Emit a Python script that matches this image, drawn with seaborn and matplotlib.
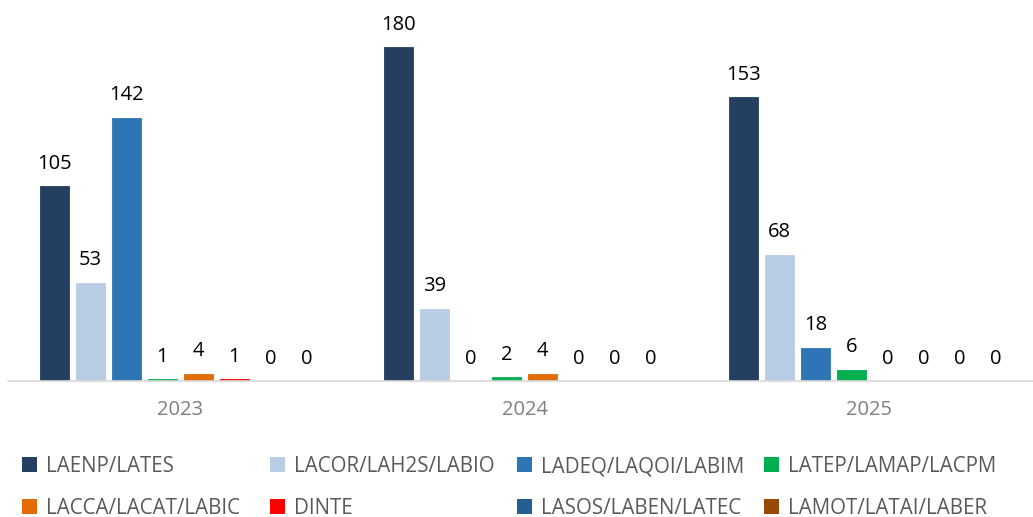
import numpy as np
import pandas as pd
import seaborn as sns
import matplotlib.pyplot as plt
from matplotlib.patches import Patch

# --- Data ---
years = ['2023', '2024', '2025']
labs = ['LAENP/LATES', 'LACOR/LAH2S/LABIO', 'LADEQ/LAQOI/LABIM', 'LATEP/LAMAP/LACPM',
        'LACCA/LACAT/LABIC', 'DINTE', 'LASOS/LABEN/LATEC', 'LAMOT/LATAI/LABER']
counts_2023 = [105, 53, 142, 1, 4, 1, 0, 0]
counts_2024 = [180, 39, 0, 2, 4, 0, 0, 0]
counts_2025 = [153, 68, 18, 6, 0, 0, 0, 0]
colors = ['#243F60', '#B9CDE5', '#2E75B6', '#00B050',
          '#E36C09', '#FF0000', '#255E91', '#984807']

rows = []
for yr, vals in zip(years, [counts_2023, counts_2024, counts_2025]):
    for lab, v in zip(labs, vals):
        rows.append({'year': yr, 'lab': lab, 'count': v})
df = pd.DataFrame(rows)

sns.set_theme(style='white')
plt.rcParams['font.family'] = ['Open Sans', 'DejaVu Sans']

W, H = 1033, 517
fig = plt.figure(figsize=(W / 100, H / 100), dpi=100)
# axes runs a bit past the right edge, like the reference
ax = fig.add_axes([8 / W, (H - 381) / H, 1033.5 / W, 371 / H])

sns.barplot(data=df, x='year', y='count', hue='lab', hue_order=labs, palette=colors,
            width=0.836, gap=0.2, ax=ax, legend=False, saturation=1)

# thin outline in the bar colour so the 1-2 count bars stay visible
for cont, c in zip(ax.containers, colors):
    for bar in cont:
        bar.set_edgecolor(c)
        bar.set_linewidth(0.6 if bar.get_height() > 0 else 0)
    ax.bar_label(cont, fmt='%d', padding=9, fontsize=14.5, color='#000000')

ax.set_ylim(0, 200)
ax.set_xlim(-0.5, 2.5)
ax.set_xlabel('')
ax.set_ylabel('')
ax.set_yticks([])
for side in ['top', 'right', 'left']:
    ax.spines[side].set_visible(False)
ax.spines['bottom'].set_color('#D9D9D9')
ax.spines['bottom'].set_linewidth(1.2)
ax.set_xticks([-0.5, 0.5, 1.5, 2.5], minor=True)
ax.tick_params(axis='x', which='major', length=0, labelsize=14.5, labelcolor='#7F7F7F', pad=14)
ax.tick_params(axis='x', which='minor', length=7, color='#D9D9D9', width=1.2, direction='out')

# legend: 4 equal-width columns, filled row by row
col_x = [22, 270, 517, 764]
for j in range(4):
    idx = [j, j + 4]
    handles = [Patch(facecolor=colors[i], edgecolor='none') for i in idx]
    fig.legend(handles, [labs[i] for i in idx], loc='upper left',
               bbox_to_anchor=(col_x[j] / W, 1 - 456 / H), ncol=1,
               frameon=False, fontsize=14.8, labelcolor='#595959', handlelength=0.75,
               handleheight=0.75, handletextpad=0.4, labelspacing=1.0,
               borderpad=0, borderaxespad=0)

plt.savefig('out.png', dpi=100)
plt.close()
